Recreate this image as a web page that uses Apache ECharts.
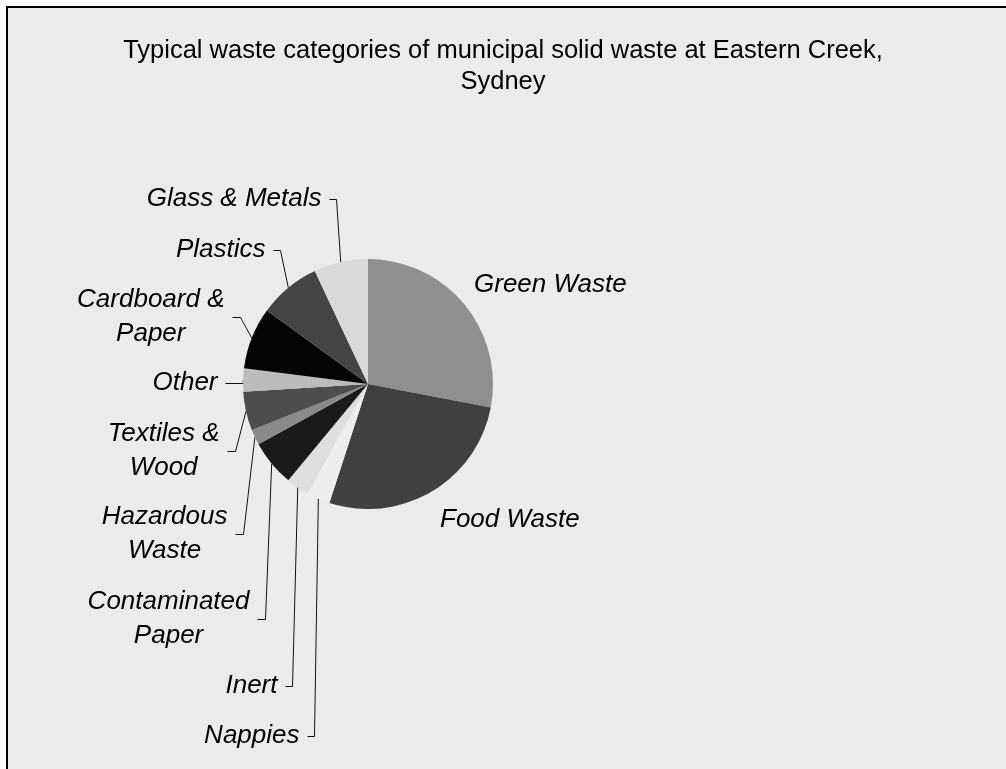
<!DOCTYPE html>
<html>
<head>
<meta charset="utf-8">
<title>Eastern Creek waste</title>
<script src="https://cdn.jsdelivr.net/npm/echarts@6/dist/echarts.min.js"></script>
<style>
  html, body { margin: 0; padding: 0; background: #fff; overflow: hidden; width: 1006px; height: 769px; }
  #frame { position: absolute; left: 6px; top: 6px; width: 1100px; height: 900px; background: #ebebeb; border-left: 2px solid #000; border-top: 2px solid #000; }
  #myChart { position: absolute; left: 0; top: 0; width: 1006px; height: 769px; }
</style>
</head>
<body>
<div id="frame"></div>
<div id="myChart"></div>
<script>
// data, clockwise from 12 o'clock
var categories = ["Green Waste", "Food Waste", "Nappies", "Inert", "Contaminated Paper",
  "Hazardous Waste", "Textiles & Wood", "Other", "Cardboard & Paper", "Plastics", "Glass & Metals"];
var values = [28, 27, 3, 3, 6, 2, 5, 3, 8, 8, 7];
var titleText = "Typical waste categories of municipal solid waste at Eastern Creek,\nSydney";

// styles / label layout
var colors = ["#8f8f8f", "#404040", "#ededed", "#dedede", "#1a1a1a",
  "#8a8a8a", "#4d4d4d", "#bcbcbc", "#050505", "#444444", "#d9d9d9"];
var wrap = [false, false, false, false, true, true, true, false, true, false, false];
// right side labels sit free, left side ones hang on a leader line
var spots = [
  { x: 474, y: 285 },
  { x: 440, y: 520 },
  { y: 736, dx: 4, tick: 7 },
  { y: 686, dx: 5, tick: 7 },
  { y: 619, dx: 6, tick: 8 },
  { y: 534, dx: 11, tick: 8 },
  { y: 451, dx: 11, tick: 8 },
  { y: 383, dx: 0, tick: 18 },
  { y: 317, dx: 11, tick: 8 },
  { y: 250, dx: 8, tick: 7 },
  { y: 199, dx: 4, tick: 7 }
];

function crisp(v) {
  return Math.round(v - 0.5) + 0.5;
}

var pieData = categories.map(function(name, i) {
  var item = { name: name, value: values[i], itemStyle: { color: colors[i] } };
  if (spots[i].x != null) {
    item.labelLine = { show: false };
  }
  return item;
});

var myChart = echarts.init(document.getElementById("myChart"), null, { renderer: "canvas" });
var option = {
  backgroundColor: "transparent",
  animation: false,
  title: {
    text: titleText,
    left: "center",
    top: 30,
    textStyle: {
      fontFamily: "Liberation Sans",
      fontSize: 25.5,
      fontWeight: "normal",
      color: "#000",
      lineHeight: 31
    }
  },
  series: [
    {
      type: "pie",
      center: [368, 384],
      radius: 125,
      startAngle: 90,
      clockwise: true,
      avoidLabelOverlap: false,
      emphasis: { disabled: true },
      itemStyle: { borderWidth: 0 },
      label: {
        show: true,
        fontFamily: "Liberation Sans",
        fontStyle: "italic",
        fontSize: 26,
        lineHeight: 34,
        color: "#000",
        formatter: function(p) {
          if (!wrap[p.dataIndex]) return p.name;
          var k = p.name.lastIndexOf(" ");
          return p.name.slice(0, k) + "\n" + p.name.slice(k + 1);
        }
      },
      labelLine: {
        show: true,
        length: 10,
        length2: 8,
        lineStyle: { color: "#111", width: 1 }
      },
      labelLayout: function(params) {
        var s = spots[params.dataIndex];
        var w = params.labelRect.width;
        if (s.x != null) {
          return { x: s.x + w / 2, y: s.y, align: "center", verticalAlign: "middle" };
        }
        var p0 = params.labelLinePoints[0];
        var p1 = [crisp(p0[0] - s.dx), crisp(s.y)];
        var p2 = [p1[0] - s.tick, p1[1]];
        return {
          x: p2[0] - 8 - w / 2,
          y: s.y,
          align: "center",
          verticalAlign: "middle",
          labelLinePoints: [p0, p1, p2]
        };
      },
      data: pieData
    }
  ]
};
myChart.setOption(option);
</script>
</body>
</html>
